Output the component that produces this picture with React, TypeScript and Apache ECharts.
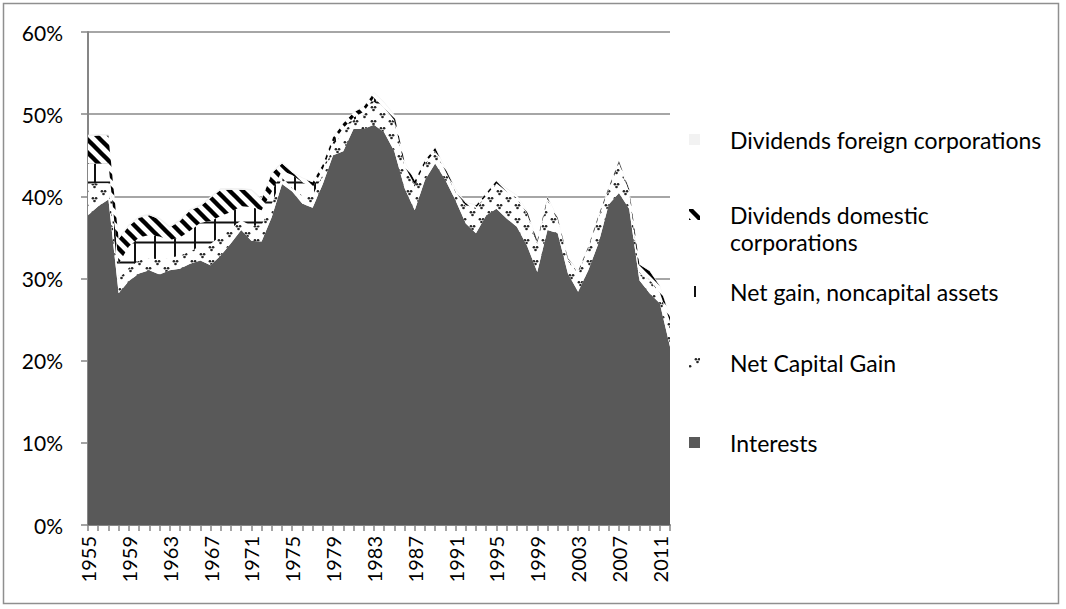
import React, { useEffect, useRef } from "react";
import * as echarts from "echarts";

const years = [
  "1955", "1956", "1957", "1958", "1959", "1960", "1961", "1962", "1963", "1964",
  "1965", "1966", "1967", "1968", "1969", "1970", "1971", "1972", "1973", "1974",
  "1975", "1976", "1977", "1978", "1979", "1980", "1981", "1982", "1983", "1984",
  "1985", "1986", "1987", "1988", "1989", "1990", "1991", "1992", "1993", "1994",
  "1995", "1996", "1997", "1998", "1999", "2000", "2001", "2002", "2003", "2004",
  "2005", "2006", "2007", "2008", "2009", "2010", "2011", "2012",
];

const interests = [
  37.7, 38.8, 39.6, 28.2, 29.7, 30.6, 31.0, 30.5, 31.0, 31.2,
  31.8, 32.2, 31.6, 32.8, 34.3, 35.9, 34.6, 34.5, 37.5, 41.5,
  40.6, 39.1, 38.6, 41.5, 45.0, 45.5, 48.2, 48.2, 48.7, 47.8,
  45.5, 41.0, 38.3, 42.0, 44.0, 42.0, 39.5, 36.7, 35.5, 37.7,
  38.5, 37.3, 36.3, 34.0, 30.8, 35.9, 35.5, 30.6, 28.4, 31.0,
  34.3, 39.0, 40.4, 38.5, 29.8, 28.2, 27.0, 21.7,
];

const netCapitalGain = [
  3.8, 2.8, 2.0, 1.8, 1.6, 1.6, 1.5, 1.8, 1.5, 1.6,
  1.5, 1.8, 2.6, 2.4, 1.8, 1.2, 1.8, 2.0, 1.6, 0.8,
  0.4, 1.0, 1.5, 1.2, 1.2, 2.3, 1.1, 1.7, 2.8, 2.8,
  3.6, 2.5, 2.9, 1.8, 1.4, 1.0, 1.0, 2.1, 3.0, 2.3,
  3.0, 3.2, 3.4, 3.8, 3.4, 3.6, 1.6, 1.6, 2.2, 2.6,
  3.1, 1.8, 3.6, 2.0, 0.8, 1.6, 1.2, 3.0,
];

const netGainNoncapital = [
  2.5, 2.4, 2.4, 1.8, 2.6, 2.8, 2.8, 2.8, 2.2, 2.2,
  2.5, 2.8, 2.8, 2.4, 2.0, 1.7, 2.3, 1.8, 1.5, 0.8,
  1.6, 1.6, 1.0, 0.6, 0.4, 0.5, 0.3, 0.4, 0.5, 0.2,
  0.2, 0.2, 0.2, 0.2, 0.1, 0.1, 0.1, 0.1, 0.1, 0.1,
  0.1, 0.1, 0.1, 0.1, 0.1, 0.1, 0.1, 0.1, 0.1, 0.1,
  0.1, 0.1, 0.1, 0.1, 0.1, 0.1, 0.1, 0.1,
];

const dividendsDomestic = [
  3.3, 3.4, 3.4, 3.0, 2.5, 2.4, 2.4, 2.1, 1.5, 2.0,
  2.5, 2.0, 2.8, 3.2, 2.7, 2.0, 2.0, 1.3, 2.2, 0.9,
  0.3, 0.5, 0.6, 0.6, 0.6, 0.6, 0.6, 0.6, 0.6, 0.6,
  0.6, 0.5, 0.5, 0.4, 0.4, 0.3, 0.3, 0.3, 0.3, 0.3,
  0.3, 0.3, 0.3, 0.3, 0.3, 0.3, 0.2, 0.2, 0.2, 0.2,
  0.2, 0.2, 0.2, 0.3, 1.0, 1.0, 0.8, 0.5,
];

const dividendsForeign = [
  0.2, 0.2, 0.2, 0.2, 0.2, 0.2, 0.2, 0.2, 0.2, 0.2,
  0.2, 0.2, 0.2, 0.2, 0.2, 0.2, 0.2, 0.2, 0.2, 0.2,
  0.1, 0.1, 0.1, 0.1, 0.1, 0.1, 0.1, 0.1, 0.1, 0.1,
  0.1, 0.1, 0.1, 0.1, 0.1, 0.1, 0.1, 0.1, 0.1, 0.1,
  0.1, 0.1, 0.1, 0.1, 0.1, 0.1, 0.1, 0.1, 0.1, 0.1,
  0.1, 0.1, 0.1, 0.1, 0.1, 0.1, 0.1, 0.1,
];

const legendNames = [
  "Dividends foreign corporations",
  "Dividends domestic corporations",
  "Net gain, noncapital assets",
  "Net Capital Gain",
  "Interests",
];

const svgUrl = (w: number, h: number, body: string) =>
  "data:image/svg+xml;charset=utf-8," +
  encodeURIComponent(
    `<svg xmlns="http://www.w3.org/2000/svg" width="${w}" height="${h}" viewBox="0 0 ${w} ${h}"><rect width="${w}" height="${h}" fill="#ffffff"/>${body}</svg>`
  );

const cluster = (cx: number, cy: number) =>
  `<circle cx="${cx - 1.6}" cy="${cy - 1.2}" r="1.3" fill="#262626"/><circle cx="${cx + 1.6}" cy="${cy - 1.2}" r="1.3" fill="#262626"/><circle cx="${cx}" cy="${cy + 1.5}" r="1.3" fill="#262626"/>`;

const dotsPattern = {
  image: svgUrl(18, 14, cluster(4.5, 3.5) + cluster(13.5, 10.5)),
  imageWidth: 18,
  imageHeight: 14,
  repeat: "repeat",
};

const gridPattern = {
  image: svgUrl(
    20,
    20,
    `<line x1="0" y1="2.5" x2="20" y2="2.5" stroke="#111" stroke-width="2"/><line x1="15" y1="0" x2="15" y2="20" stroke="#111" stroke-width="2"/>`
  ),
  imageWidth: 20,
  imageHeight: 20,
  repeat: "repeat",
};

const stripePattern = {
  image: svgUrl(
    13,
    13,
    `<g stroke="#000" stroke-width="4.4"><line x1="-2" y1="-2" x2="15" y2="15"/><line x1="-4" y1="9" x2="4" y2="17"/><line x1="9" y1="-4" x2="17" y2="4"/></g>`
  ),
  imageWidth: 13,
  imageHeight: 13,
  repeat: "repeat",
};

const FONT = "Lato";

export default function App() {
  const ref = useRef<HTMLDivElement>(null);

  useEffect(() => {
    if (!ref.current) return;
    const chart = echarts.init(ref.current, undefined, { renderer: "svg" });

    const seriesDefs = [
      { name: "Interests", data: interests, fill: "#595959" as any },
      { name: "Net Capital Gain", data: netCapitalGain, fill: dotsPattern },
      { name: "Net gain, noncapital assets", data: netGainNoncapital, fill: gridPattern },
      { name: "Dividends domestic corporations", data: dividendsDomestic, fill: stripePattern },
      { name: "Dividends foreign corporations", data: dividendsForeign, fill: "#f2f2f2" },
    ];

    const legendItems = [
      { name: legendNames[0], lines: ["Dividends foreign corporations"], y: 140, fill: "#f2f2f2" as any },
      { name: legendNames[1], lines: ["Dividends domestic", "corporations"], y: 215, fill: stripePattern },
      { name: legendNames[2], lines: ["Net gain, noncapital assets"], y: 292, fill: gridPattern },
      { name: legendNames[3], lines: ["Net Capital Gain"], y: 363, fill: dotsPattern },
      { name: legendNames[4], lines: ["Interests"], y: 443, fill: "#595959" },
    ];

    const graphic: any[] = [
      {
        type: "rect",
        shape: { x: 3.5, y: 3.5, width: 1055, height: 600 },
        style: { fill: "none", stroke: "#8f8f8f", lineWidth: 1.5 },
        silent: true,
        z: -1,
      },
    ];
    legendItems.forEach((it) => {
      graphic.push({
        type: "rect",
        shape: { x: 689, y: it.y - 6, width: 11, height: 11 },
        style: { fill: it.fill },
        silent: true,
      });
      it.lines.forEach((ln, i) => {
        graphic.push({
          type: "text",
          x: 730,
          y: it.y + i * 27,
          style: {
            text: ln,
            fill: "#000",
            font: `23px ${FONT}`,
            textVerticalAlign: "middle",
            textAlign: "left",
          },
          silent: true,
        });
      });
    });

    chart.setOption({
      animation: false,
      backgroundColor: "#ffffff",
      grid: { left: 88, top: 32, right: 396, bottom: 84 },
      xAxis: {
        type: "category",
        data: years,
        boundaryGap: false,
        axisLine: { show: true, lineStyle: { color: "#868686", width: 2 } },
        axisTick: { show: true, interval: 0, length: 6, lineStyle: { color: "#868686", width: 1.5 } },
        axisLabel: {
          interval: 3,
          rotate: 90,
          margin: 11,
          fontFamily: FONT,
          fontSize: 20,
          color: "#000",
        },
        splitLine: { show: false },
      },
      yAxis: {
        type: "value",
        min: 0,
        max: 60,
        interval: 10,
        axisLine: { show: true, lineStyle: { color: "#868686", width: 2 } },
        axisTick: { show: true, length: 7, lineStyle: { color: "#868686", width: 1.5 } },
        axisLabel: {
          formatter: "{value}%",
          margin: 25,
          fontFamily: FONT,
          fontSize: 21,
          color: "#000",
        },
        splitLine: { show: true, lineStyle: { color: "#a6a6a6", width: 2 } },
      },
      series: seriesDefs.map((s) => ({
        name: s.name,
        type: "line",
        stack: "total",
        data: s.data,
        symbol: "none",
        showSymbol: false,
        lineStyle: { width: 0 },
        itemStyle: { color: s.fill },
        areaStyle: { color: s.fill, opacity: 1 },
        emphasis: { disabled: true },
      })),
      graphic,
    });

    return () => {
      chart.dispose();
    };
  }, []);

  return (
    <div
      ref={ref}
      style={{ position: "absolute", left: 0, top: 0, width: 1066, height: 609, background: "#fff" }}
    />
  );
}
